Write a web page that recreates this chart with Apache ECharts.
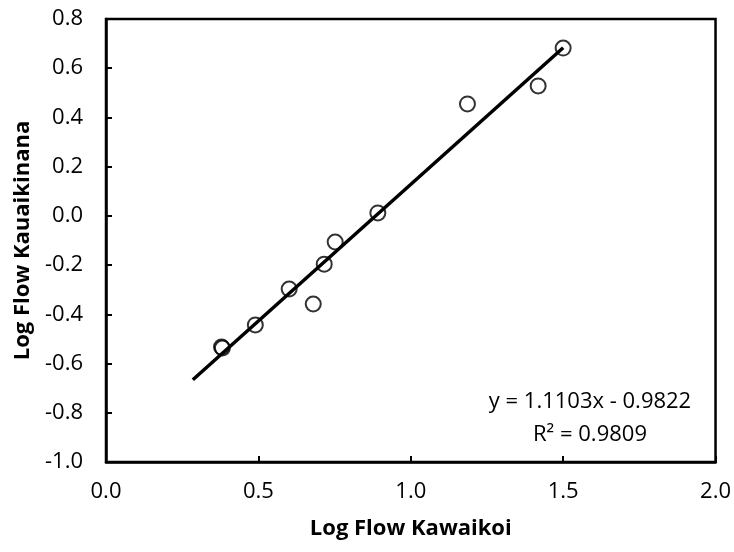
<!DOCTYPE html>
<html><head><meta charset="utf-8">
<script src="https://cdn.jsdelivr.net/npm/echarts@6/dist/echarts.min.js"></script>
<style>html,body{margin:0;padding:0;background:#fff}#c{width:734px;height:552px}</style>
</head><body><div id="c"></div>
<script>
const xValues = [1.50, 1.418, 1.186, 0.892, 0.752, 0.716, 0.680, 0.601, 0.490, 0.379, 0.382];
const yValues = [0.682, 0.528, 0.455, 0.012, -0.106, -0.196, -0.358, -0.297, -0.443, -0.533, -0.537];
const trendX = [0.285, 1.50];
const trendY = [-0.666, 0.683];
const xTicks = ['0.0','0.5','1.0','1.5','2.0'];
const yTicks = ['-1.0','-0.8','-0.6','-0.4','-0.2','0.0','0.2','0.4','0.6','0.8'];
const eqText = 'y = 1.1103x - 0.9822';
const r2Text = 'R² = 0.9809';

const font = '"Open Sans", Lato, sans-serif';
const fs = 22;
const chart = echarts.init(document.getElementById('c'));
chart.setOption({
  animation: false,
  grid: {left: 106, top: 19, right: 16, bottom: 90, show: true, borderColor: '#000', borderWidth: 2.5},
  xAxis: {
    type: 'value', min: 0, max: 2, interval: 0.5,
    name: 'Log Flow Kawaikoi', nameLocation: 'middle', nameGap: 56,
    nameTextStyle: {fontFamily: font, fontWeight: 'bold', fontSize: fs, color: '#000'},
    axisLine: {show: true, onZero: false, lineStyle: {color: '#000', width: 2.5}},
    axisTick: {show: true, inside: true, length: 6, lineStyle: {color: '#000', width: 2}},
    axisLabel: {margin: 19, fontFamily: font, fontSize: fs, color: '#000',
      formatter: v => xTicks[Math.round(v / 0.5)]},
    splitLine: {show: false}
  },
  yAxis: {
    type: 'value', min: -1, max: 0.8, interval: 0.2,
    name: 'Log Flow Kauaikinana', nameLocation: 'middle', nameGap: 68,
    nameTextStyle: {fontFamily: font, fontWeight: 'bold', fontSize: fs, color: '#000'},
    axisLine: {show: true, onZero: false, lineStyle: {color: '#000', width: 2.5}},
    axisTick: {show: true, inside: true, length: 6, lineStyle: {color: '#000', width: 2}},
    axisLabel: {margin: 23, fontFamily: font, fontSize: fs, color: '#000',
      formatter: v => yTicks[Math.round((v + 1) / 0.2)]},
    splitLine: {show: false}
  },
  series: [
    {
      type: 'line', data: trendX.map((x, i) => [x, trendY[i]]),
      symbol: 'none', lineStyle: {color: '#000', width: 3.5}, z: 2
    },
    {
      type: 'scatter', data: xValues.map((x, i) => [x, yValues[i]]),
      symbol: 'circle', symbolSize: 15,
      itemStyle: {color: 'rgba(0,0,0,0)', borderColor: '#000', borderWidth: 2}, z: 3
    }
  ],
  graphic: [
    {type: 'text', x: 590, y: 402, style: {text: eqText, fontFamily: font, fontSize: fs, fill: '#000', textAlign: 'center', textVerticalAlign: 'middle'}},
    {type: 'text', x: 590, y: 435, style: {text: r2Text, fontFamily: font, fontSize: fs, fill: '#000', textAlign: 'center', textVerticalAlign: 'middle'}}
  ]
});
</script></body></html>
